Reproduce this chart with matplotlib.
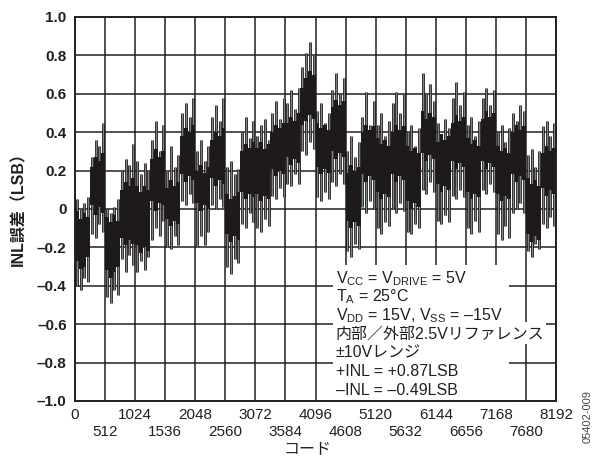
import numpy as np
import matplotlib
matplotlib.use("Agg")
import matplotlib.pyplot as plt
from matplotlib.patches import Rectangle

plt.rcParams['font.family'] = ['Liberation Sans', 'Noto Sans CJK JP']
plt.rcParams['mathtext.fontset'] = 'custom'
plt.rcParams['mathtext.rm'] = 'Liberation Sans'
plt.rcParams['mathtext.default'] = 'regular'

# INL measurement, one column per 64 codes: upper and lower extent of the spikes (LSB)
codes = np.arange(32, 8192, 64)
spike_hi = [
    0.05, 0.00, 0.03, 0.06,   0.27, 0.36, 0.33, 0.45,   0.00, -0.02, 0.01, 0.05,  0.20, 0.26, 0.23, 0.34,
    0.25, 0.18, 0.24, 0.20,   0.36, 0.46, 0.30, 0.44,   0.20, 0.33, 0.22, 0.28,   0.50, 0.55, 0.48, 0.58,
    0.30, 0.36, 0.25, 0.33,   0.48, 0.54, 0.46, 0.58,   0.22, 0.25, 0.18, 0.21,   0.40, 0.48, 0.37, 0.46,
    0.38, 0.44, 0.47, 0.36,   0.50, 0.56, 0.47, 0.58,   0.55, 0.62, 0.52, 0.63,   0.74, 0.81, 0.87, 0.80,
    0.51, 0.55, 0.45, 0.50,   0.62, 0.71, 0.60, 0.68,   0.30, 0.38, 0.27, 0.35,   0.48, 0.61, 0.44, 0.56,
    0.44, 0.50, 0.38, 0.46,   0.55, 0.61, 0.50, 0.60,   0.40, 0.44, 0.33, 0.42,   0.71, 0.60, 0.65, 0.56,
    0.45, 0.38, 0.47, 0.42,   0.58, 0.66, 0.54, 0.61,   0.44, 0.48, 0.38, 0.46,   0.58, 0.63, 0.54, 0.62,
    0.40, 0.44, 0.35, 0.42,   0.50, 0.46, 0.54, 0.51,   0.28, 0.31, 0.22, 0.30,   0.43, 0.46, 0.38, 0.45,
]
spike_lo = [
    -0.40, -0.42, -0.36, -0.38,  -0.13, -0.15, -0.08, -0.12,  -0.46, -0.49, -0.42, -0.45,  -0.26, -0.33, -0.24, -0.29,
    -0.33, -0.27, -0.32, -0.25,  -0.16, -0.10, -0.14, -0.06,  -0.20, -0.21, -0.14, -0.19,   0.04, 0.02, 0.08, 0.03,
    -0.20, -0.14, -0.19, -0.12,   0.02, 0.00, 0.05, 0.01,    -0.30, -0.34, -0.26, -0.28,  -0.08, -0.10, -0.02, -0.07,
    -0.10, -0.12, -0.05, -0.09,   0.07, 0.05, 0.11, 0.06,     0.13, 0.12, 0.18, 0.13,     0.30, 0.28, 0.35, 0.31,
     0.06, 0.04, 0.09, 0.05,      0.14, 0.12, 0.18, 0.13,    -0.22, -0.25, -0.18, -0.21,   0.01, -0.02, 0.04, 0.00,
    -0.10, -0.13, -0.07, -0.09,   0.00, -0.02, 0.03, -0.01,  -0.12, -0.13, -0.08, -0.10,   0.10, 0.08, 0.14, 0.09,
    -0.06, -0.08, -0.03, -0.07,   0.07, 0.05, 0.10, 0.06,    -0.10, -0.13, -0.06, -0.12,   0.10, 0.08, 0.13, 0.09,
    -0.13, -0.16, -0.09, -0.15,  -0.02, 0.00, 0.03, -0.02,   -0.22, -0.25, -0.18, -0.21,  -0.08, -0.10, -0.04, -0.09,
]

# Dense core of the trace in the same 64-code columns (LSB)
core_hi = [
    -0.01, -0.05, -0.02, -0.04,  0.22, 0.27, 0.25, 0.29,  -0.04, -0.07, -0.03, -0.06,  0.10, 0.14, 0.12, 0.16,
     0.12, 0.09, 0.12, 0.10,     0.26, 0.31, 0.27, 0.30,   0.11, 0.15, 0.12, 0.14,    0.38, 0.42, 0.40, 0.44,
     0.20, 0.23, 0.19, 0.22,     0.36, 0.40, 0.38, 0.42,   0.08, 0.05, 0.07, 0.09,    0.30, 0.34, 0.32, 0.35,
     0.32, 0.35, 0.31, 0.34,     0.40, 0.44, 0.42, 0.45,   0.45, 0.48, 0.46, 0.50,    0.63, 0.68, 0.72, 0.70,
     0.45, 0.42, 0.44, 0.41,     0.53, 0.57, 0.54, 0.56,   0.19, 0.23, 0.20, 0.22,    0.40, 0.44, 0.41, 0.43,
     0.37, 0.34, 0.36, 0.33,     0.40, 0.44, 0.41, 0.43,   0.33, 0.30, 0.32, 0.29,    0.51, 0.47, 0.50, 0.48,
     0.35, 0.39, 0.36, 0.38,     0.45, 0.49, 0.46, 0.48,   0.37, 0.34, 0.36, 0.33,    0.47, 0.51, 0.48, 0.50,
     0.33, 0.30, 0.32, 0.29,     0.40, 0.44, 0.41, 0.43,   0.16, 0.13, 0.15, 0.12,    0.29, 0.33, 0.30, 0.32,
]
core_lo = [
    -0.27, -0.31, -0.30, -0.25,  0.02, -0.03, 0.01, -0.02, -0.32, -0.36, -0.33, -0.30, -0.15, -0.19, -0.16, -0.18,
    -0.19, -0.23, -0.20, -0.22,  0.04, -0.01, 0.03, 0.02,  -0.05, -0.09, -0.06, -0.08,   0.18, 0.14, 0.17, 0.15,
     0.03, -0.01, 0.02, 0.00,    0.16, 0.12, 0.15, 0.13,  -0.13, -0.17, -0.14, -0.16,   0.09, 0.05, 0.08, 0.06,
     0.08, 0.04, 0.07, 0.05,     0.21, 0.17, 0.20, 0.18,   0.27, 0.23, 0.26, 0.24,     0.44, 0.46, 0.49, 0.47,
     0.22, 0.18, 0.21, 0.19,     0.30, 0.26, 0.29, 0.27,  -0.06, -0.10, -0.07, -0.09,   0.18, 0.14, 0.17, 0.15,
     0.09, 0.05, 0.08, 0.06,     0.18, 0.14, 0.17, 0.15,   0.04, 0.00, 0.03, 0.01,     0.29, 0.25, 0.28, 0.26,
     0.13, 0.09, 0.12, 0.10,     0.25, 0.21, 0.24, 0.22,   0.09, 0.05, 0.08, 0.06,     0.25, 0.21, 0.24, 0.22,
     0.08, 0.04, 0.07, 0.05,     0.18, 0.14, 0.17, 0.15,  -0.13, -0.17, -0.14, -0.16,   0.11, 0.07, 0.10, 0.08,
]

x_major = np.arange(0, 8193, 1024)
x_minor = np.arange(512, 8192, 1024)
y_ticks = np.round(np.arange(-1.0, 1.01, 0.2), 1)
y_labels = ['\u20131.0', '\u20130.8', '\u20130.6', '\u20130.4', '\u20130.2', '0',
            '0.2', '0.4', '0.6', '0.8', '1.0']

notes = [
    'V$_{CC}$ = V$_{DRIVE}$ = 5V',
    'T$_A$ = 25°C',
    'V$_{DD}$ = 15V, V$_{SS}$ = \u201315V',
    '内部／外部2.5Vリファレンス',
    '±10Vレンジ',
    '+INL = +0.87LSB',
    '\u2013INL = \u20130.49LSB',
]

ink = '#231f20'
fig = plt.figure(figsize=(5.94, 4.57), dpi=100)
ax = fig.add_axes([75 / 594, 56 / 457, 481 / 594, 384 / 457])

ax.vlines(codes, spike_lo, spike_hi, color='#231f20', lw=2.0, zorder=2)
ax.vlines(codes, spike_lo, spike_hi, color='#85888b', lw=0.7, zorder=2.1)
ax.bar(codes, np.array(core_hi) - np.array(core_lo), bottom=core_lo,
       width=64, color='#1e1a1b', linewidth=0, zorder=2.2)

ax.set_xlim(0, 8192)
ax.set_ylim(-1.0, 1.0)
ax.set_xticks(x_major)
ax.set_xticklabels([str(v) for v in x_major])
ax.set_xticks(x_minor, minor=True)
ax.set_xticklabels([str(v) for v in x_minor], minor=True)
ax.set_yticks(y_ticks)
ax.set_yticklabels(y_labels)
ax.tick_params(axis='both', which='both', length=0, labelsize=11, colors=ink)
ax.tick_params(axis='x', which='major', pad=5)
ax.tick_params(axis='x', which='minor', pad=17)
ax.tick_params(axis='y', pad=6)
for lab in ax.get_yticklabels():
    lab.set_fontweight('bold')
ax.grid(True, which='both', color=ink, lw=1.1)
ax.set_axisbelow(True)
for sp in ax.spines.values():
    sp.set_color(ink)
    sp.set_linewidth(1.4)
    sp.set_zorder(5)

# White panel behind the condition notes
ax.add_patch(Rectangle((4400, -1.0), 7390 - 4400, 0.71, facecolor='white',
                       edgecolor='none', zorder=3))
ax.add_patch(Rectangle((4400, -0.705), 8030 - 4400, 0.115, facecolor='white',
                       edgecolor='none', zorder=3))
for i, line in enumerate(notes):
    ax.text(4440, -0.385 - i * 0.0972, line, fontsize=11.5, color=ink,
            ha='left', va='baseline', zorder=4)

fig.text(307 / 594, 1 - 450 / 457, 'コード', fontsize=11.5, color=ink,
         ha='center', va='center')
fig.text(19 / 594, 1 - 205 / 457, 'INL誤差（LSB）', fontsize=11.5, color=ink,
         ha='center', va='center', rotation=90, fontweight='bold')
fig.text(588 / 594, 1 - 417 / 457, '05402-009', fontsize=8, color='#444444',
         ha='center', va='center', rotation=90)

fig.savefig('out.png', dpi=100)
